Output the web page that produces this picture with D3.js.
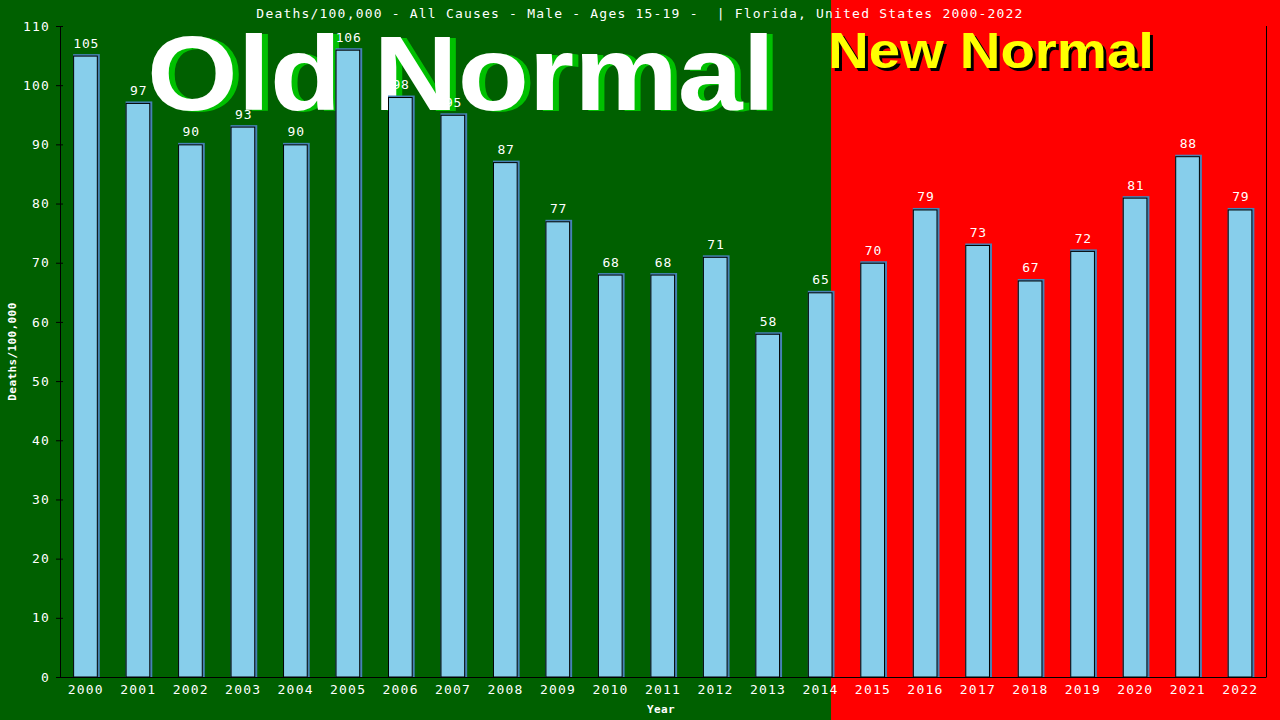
<!DOCTYPE html>
<html>
<head>
<meta charset="utf-8">
<script src="https://cdn.jsdelivr.net/npm/d3@7"></script>
<style>
  html, body { margin: 0; padding: 0; background: #006000; }
  svg { display: block; }
  .mono { font-family: "DejaVu Sans Mono", "Liberation Mono", monospace; }
</style>
</head>
<body>
<svg id="chart" width="1280" height="720"></svg>
<script>
const years = ["2000", "2001", "2002", "2003", "2004", "2005", "2006", "2007", "2008", "2009", "2010", "2011",
  "2012", "2013", "2014", "2015", "2016", "2017", "2018", "2019", "2020", "2021", "2022"]
const deathRates = [105, 97, 90, 93, 90, 106, 98, 95, 87, 77, 68, 68, 71, 58, 65, 70, 79, 73, 67, 72, 81, 88, 79]
const yTicks = [0, 10, 20, 30, 40, 50, 60, 70, 80, 90, 100, 110]
const titleText = "Deaths/100,000 - All Causes - Male - Ages 15-19 -  | Florida, United States 2000-2022"
const splitYear = "2014"

const width = 1280
const height = 720
const margin = { top: 26, right: 14, bottom: 43, left: 60 }

const svg = d3.select("#chart")

const x = d3.scaleBand()
  .domain(years)
  .range([margin.left, width - margin.right])
  .paddingInner(0.52)
  .paddingOuter(0.25)

const y = d3.scaleLinear()
  .domain([0, 110])
  .range([height - margin.bottom, margin.top])

// backgrounds: old normal green, new normal red
const splitX = x(splitYear) + x.bandwidth() - 2
svg.append("rect")
  .attr("x", 0).attr("y", 0)
  .attr("width", splitX).attr("height", height)
  .attr("fill", "#006000")
svg.append("rect")
  .attr("x", splitX).attr("y", 0)
  .attr("width", width - splitX).attr("height", height)
  .attr("fill", "#ff0000")

// big labels behind the bars
const bigText = (txt, { tx, ty, size, len, fill, shadow, dx, dy }) => {
  const g = svg.append("g")
    .style("font-family", "'Liberation Sans', Arial, sans-serif")
    .style("font-weight", "bold")
    .style("font-size", size + "px")
  g.append("text")
    .attr("x", tx + dx).attr("y", ty + dy)
    .attr("textLength", len).attr("lengthAdjust", "spacingAndGlyphs")
    .attr("fill", shadow)
    .text(txt)
  g.append("text")
    .attr("x", tx).attr("y", ty)
    .attr("textLength", len).attr("lengthAdjust", "spacingAndGlyphs")
    .attr("fill", fill)
    .text(txt)
}
bigText("Old Normal", { tx: 147, ty: 110, size: 106, len: 628, fill: "#ffffff", shadow: "#00c000", dx: 6, dy: 1 })
bigText("New Normal", { tx: 828, ty: 68, size: 50, len: 326, fill: "#ffff00", shadow: "#000000", dx: 3, dy: 3 })

// title
svg.append("text")
  .attr("class", "mono")
  .attr("x", width / 2)
  .attr("y", 17.5)
  .attr("text-anchor", "middle")
  .attr("fill", "#ffffff")
  .style("font-size", "13px")
  .style("letter-spacing", "1.2px")
  .style("white-space", "pre")
  .text(titleText)

// bars
const bars = svg.append("g").attr("class", "g-bars")
const barData = years.map((yr, i) => ({ year: yr, value: deathRates[i] }))

bars.selectAll("rect.bar-shadow")
  .data(barData)
  .enter()
  .append("rect")
    .attr("class", "bar-shadow")
    .attr("x", d => x(d.year))
    .attr("y", d => y(d.value) - 1.5)
    .attr("width", x.bandwidth() + 1.5)
    .attr("height", d => y(0) - y(d.value) + 1.5)
    .attr("fill", "#4682b4")

bars.selectAll("rect.bar")
  .data(barData)
  .enter()
  .append("rect")
    .attr("class", "bar")
    .attr("x", d => x(d.year) + 0.5)
    .attr("y", d => y(d.value) + 0.5)
    .attr("width", x.bandwidth() - 1.5)
    .attr("height", d => y(0) - y(d.value) - 0.5)
    .attr("fill", "#87ceeb")
    .attr("stroke", "#000000")
    .attr("stroke-width", 1)

// value labels
svg.append("g").attr("class", "g-labels")
  .selectAll("text")
  .data(barData)
  .enter()
  .append("text")
    .attr("class", "mono")
    .attr("x", d => x(d.year) + x.bandwidth() / 2 + 0.5)
    .attr("y", d => y(d.value) - 8)
    .attr("text-anchor", "middle")
    .attr("fill", "#ffffff")
    .style("font-size", "13px")
    .style("letter-spacing", "0.8px")
    .text(d => d.value)

// axes
const yAxis = g => g
  .attr("transform", `translate(${margin.left},0)`)
  .call(d3.axisLeft(y).tickValues(yTicks).tickSize(4).tickPadding(6).tickSizeOuter(0))
  .call(g => g.selectAll(".tick line").attr("x1", 3).attr("stroke", "#000"))
  .call(g => g.select(".domain").attr("stroke", "#000"))
  .call(g => g.selectAll(".tick text")
    .attr("class", "mono")
    .attr("fill", "#ffffff")
    .style("font-size", "13px")
    .style("letter-spacing", "1.2px"))

const xAxis = g => g
  .attr("transform", `translate(0,${height - margin.bottom})`)
  .call(d3.axisBottom(x).tickSize(0).tickPadding(8).tickSizeOuter(0))
  .call(g => g.select(".domain").attr("stroke", "#000"))
  .call(g => g.selectAll(".tick text")
    .attr("class", "mono")
    .attr("fill", "#ffffff")
    .style("font-size", "13px")
    .style("letter-spacing", "1.2px"))

svg.append("g").call(xAxis)
svg.append("g").call(yAxis)

// right border of plot area
svg.append("line")
  .attr("x1", width - margin.right + 0.5).attr("x2", width - margin.right + 0.5)
  .attr("y1", y(110)).attr("y2", y(0))
  .attr("stroke", "#000")

// axis titles
svg.append("text")
  .attr("class", "mono")
  .attr("x", 661)
  .attr("y", 713)
  .attr("text-anchor", "middle")
  .attr("fill", "#ffffff")
  .style("font-size", "11px")
  .style("font-weight", "bold")
  .style("letter-spacing", "0.4px")
  .text("Year")

svg.append("text")
  .attr("class", "mono")
  .attr("transform", `translate(16,${(y(0) + y(110)) / 2}) rotate(-90)`)
  .attr("text-anchor", "middle")
  .attr("fill", "#ffffff")
  .style("font-size", "11px")
  .style("font-weight", "bold")
  .style("letter-spacing", "0.4px")
  .text("Deaths/100,000")
</script>
</body>
</html>
